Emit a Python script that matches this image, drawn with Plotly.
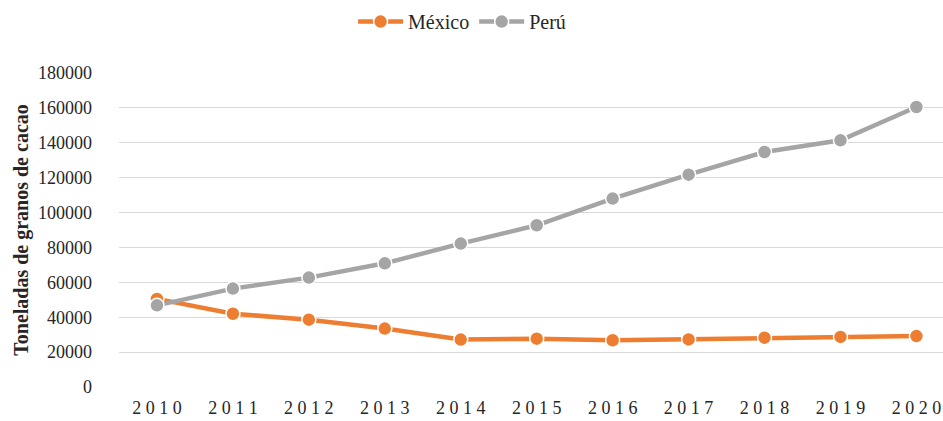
import plotly.graph_objects as go

years = [2010, 2011, 2012, 2013, 2014, 2015, 2016, 2017, 2018, 2019, 2020]
mexico = [50500, 42000, 38600, 33500, 27200, 27700, 26800, 27300, 28300, 28700, 29200]
peru = [46800, 56400, 62700, 70900, 82200, 92700, 108000, 121700, 134700, 141400, 160500]
y_ticks = [0, 20000, 40000, 60000, 80000, 100000, 120000, 140000, 160000, 180000]
x_ticktext = [" ".join(str(y)) for y in years]

FONT = "Liberation Serif, Times New Roman, serif"

fig = go.Figure()
fig.add_trace(go.Scatter(
    x=years, y=mexico, name="México", mode="lines+markers",
    line=dict(color="#ED7D31", width=4.5),
    marker=dict(size=14, color="#ED7D31", line=dict(color="white", width=1.5)),
))
fig.add_trace(go.Scatter(
    x=years, y=peru, name="Perú", mode="lines+markers",
    line=dict(color="#A5A5A5", width=4.5),
    marker=dict(size=14, color="#A5A5A5", line=dict(color="white", width=1.5)),
))

fig.update_layout(
    width=943, height=421,
    margin=dict(l=119, r=0, t=73, b=34),
    paper_bgcolor="white", plot_bgcolor="white",
    font=dict(family=FONT, size=17, color="#262626"),
    legend=dict(orientation="h", xref="container", x=0.49, xanchor="center",
                yref="container", y=0.995, yanchor="top",
                font=dict(family=FONT, size=20, color="#262626"),
                itemwidth=45),
    showlegend=True,
)
fig.update_xaxes(
    range=[2009.5, 2020.35], tickmode="array", tickvals=years, ticktext=x_ticktext,
    showgrid=False, zeroline=False, showline=False, ticks="",
    ticklabelstandoff=8,
    tickfont=dict(family=FONT, size=18, color="#262626"),
)
fig.update_yaxes(
    range=[0, 180000], tickmode="array", tickvals=y_ticks,
    ticktext=[str(v) for v in y_ticks],
    showgrid=True, gridcolor="#D9D9D9", gridwidth=1.2,
    zeroline=False, showline=False, ticks="",
    ticklabelstandoff=26,
    tickfont=dict(family=FONT, size=18, color="#262626"),
    title=dict(text="<b>Toneladas de granos de cacao</b>",
               font=dict(family=FONT, size=20, color="#262626"), standoff=4),
)

fig.write_html("out.html", config={"displayModeBar": False},
               post_script="document.body.style.margin='0';document.body.style.overflow='hidden';")
